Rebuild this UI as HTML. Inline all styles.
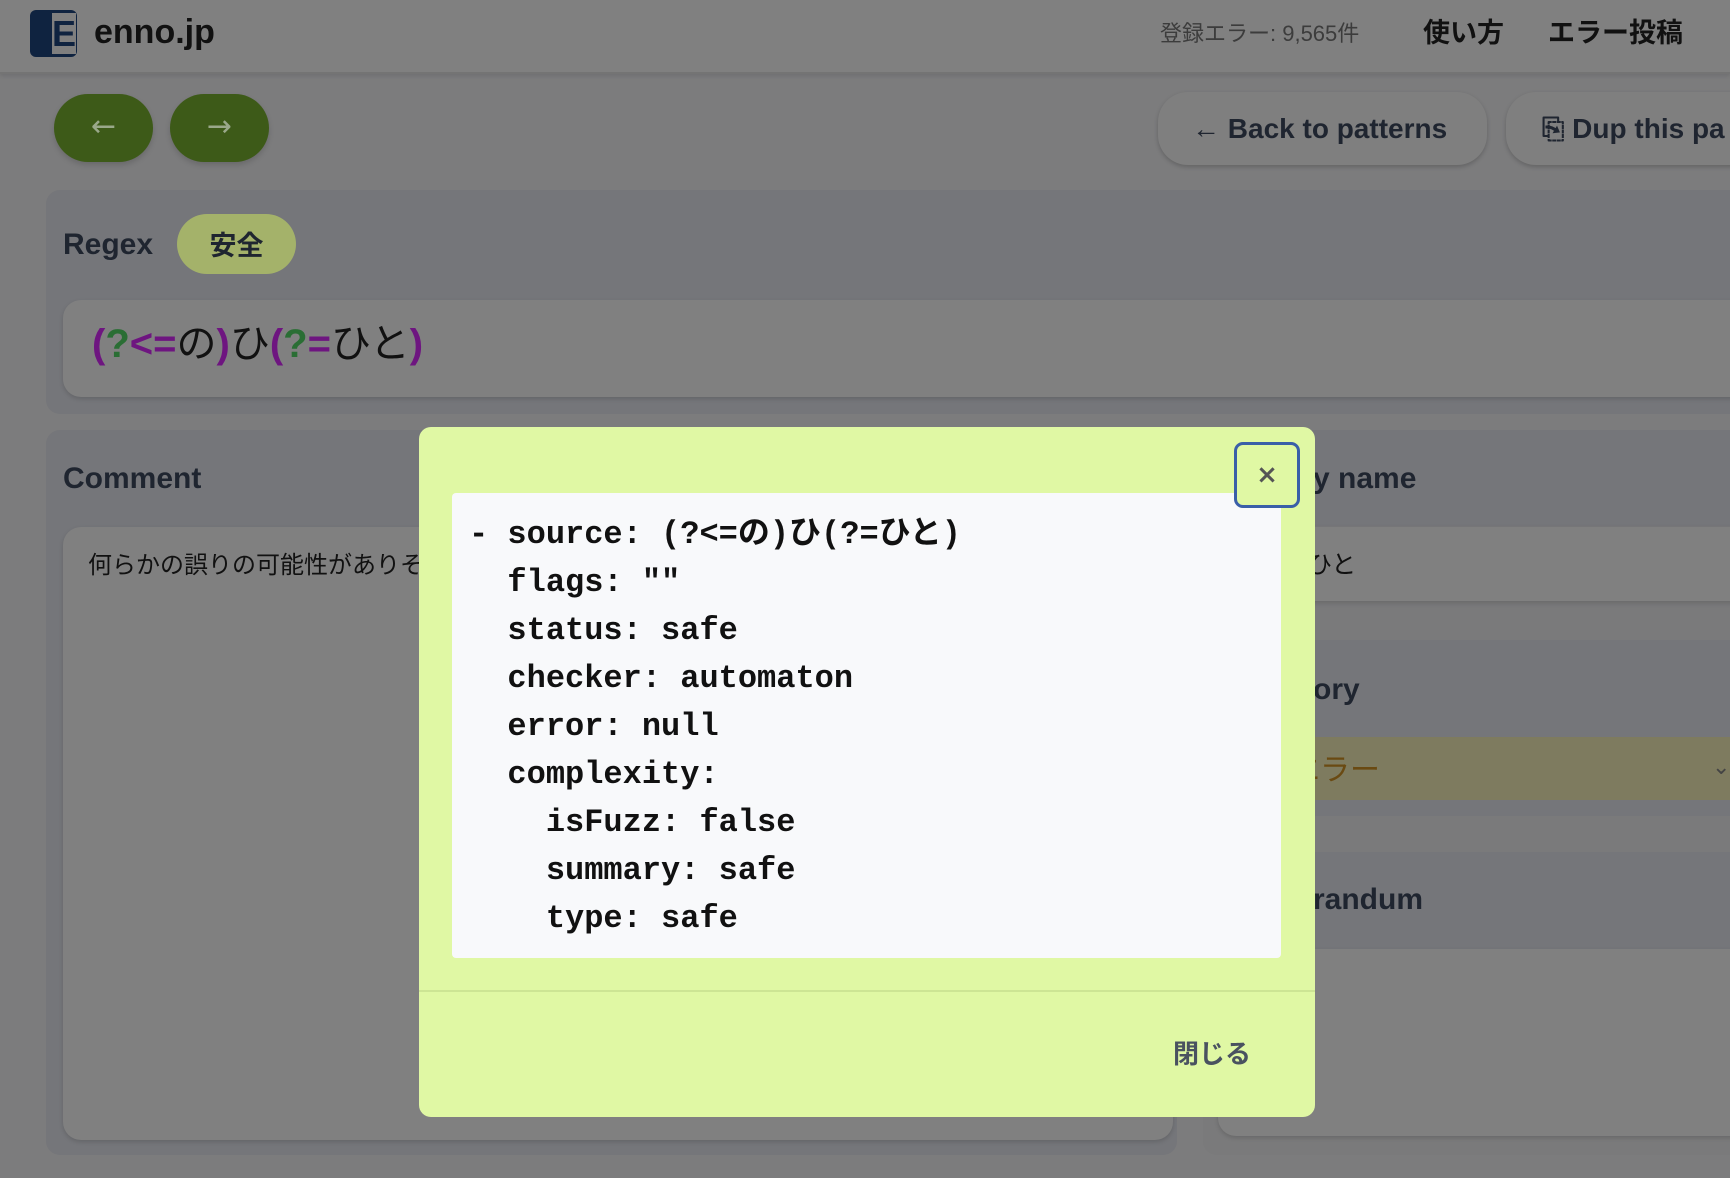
<!DOCTYPE html>
<html><head><meta charset="utf-8"><style>
*{margin:0;padding:0;box-sizing:border-box}
body{width:1730px;height:1178px;background:#7c7c7d;position:relative;overflow:hidden;font-family:"Liberation Sans","Noto Sans CJK JP",sans-serif}
.a{position:absolute}
.hdr{left:0;top:0;width:1730px;height:74px;background:#808080;border-bottom:2px solid #747474;box-shadow:0 2px 4px rgba(0,0,0,.1)}
.mono{font-family:"Liberation Mono","DejaVu Sans Mono","Noto Sans CJK JP",monospace;font-weight:bold}
.p{color:#6e1580;font-weight:bold}.g{color:#2a6e34;font-weight:bold}
</style></head><body>
<div class="a hdr"></div>
<div class="a" style="left:30px;top:10px;width:47px;height:47px;background:#0f2340;border-radius:6px"></div>
<div class="a" style="left:52px;top:13px;width:24px;height:41px;background:#7f7f7f;color:#0f2340;font:bold 36px/41px 'Liberation Sans';text-align:center">E</div>
<div class="a" style="left:94px;top:12px;font:bold 34px/40px 'Liberation Sans';color:#111">enno.jp</div>
<div class="a" style="left:1160px;top:20px;font:22px/28px 'Liberation Sans','Noto Sans CJK JP',sans-serif;color:#3c3c3c">登録エラー: 9,565件</div>
<div class="a" style="left:1423px;top:16px;font:bold 27px/34px 'Liberation Sans','Noto Sans CJK JP',sans-serif;color:#111">使い方</div>
<div class="a" style="left:1548px;top:16px;font:bold 27px/34px 'Liberation Sans','Noto Sans CJK JP',sans-serif;color:#111">エラー投稿</div>

<div class="a" style="left:54px;top:94px;width:99px;height:68px;background:#3d5a18;border-radius:34px;color:#9aa88a;font:30px/66px 'DejaVu Sans';text-align:center;box-shadow:0 3px 6px rgba(0,0,0,.15)">←</div>
<div class="a" style="left:170px;top:94px;width:99px;height:68px;background:#3d5a18;border-radius:34px;color:#9aa88a;font:30px/66px 'DejaVu Sans';text-align:center;box-shadow:0 3px 6px rgba(0,0,0,.15)">→</div>
<div class="a" style="left:1158px;top:92px;width:329px;height:73px;background:#7f7f7f;border-radius:30px;box-shadow:0 2px 5px rgba(0,0,0,.2);font:bold 28px/73px 'Liberation Sans';color:#1f2530;padding-left:34px">← Back to patterns</div>
<div class="a" style="left:1506px;top:92px;width:300px;height:73px;background:#7f7f7f;border-radius:30px;box-shadow:0 2px 5px rgba(0,0,0,.2);font:bold 28px/73px 'Liberation Sans';color:#1f2530;padding-left:36px">⎘ Dup this pa</div>

<div class="a" style="left:46px;top:190px;width:1700px;height:224px;background:#75767a;border-radius:14px"></div>
<div class="a" style="left:63px;top:228px;font:bold 30px/34px 'Liberation Sans';color:#1f2530">Regex</div>
<div class="a" style="left:177px;top:214px;width:119px;height:60px;background:#a4b26a;border-radius:30px;font:bold 27px/60px 'Noto Sans CJK JP',sans-serif;color:#1f2530;text-align:center">安全</div>
<div class="a" style="left:63px;top:300px;width:1700px;height:97px;background:#808080;border-radius:18px;box-shadow:0 2px 5px rgba(0,0,0,.15)"></div>
<div class="a" style="left:92px;top:320px;font:40px/48px 'Liberation Sans','Noto Sans CJK JP',sans-serif;color:#111"><span class="p">(</span><span class="g">?</span><span class="p">&lt;=</span>の<span class="p">)</span>ひ<span class="p">(</span><span class="g">?</span><span class="p">=</span>ひと<span class="p">)</span></div>

<div class="a" style="left:46px;top:430px;width:1131px;height:725px;background:#75767a;border-radius:14px"></div>
<div class="a" style="left:63px;top:462px;font:bold 30px/34px 'Liberation Sans';color:#1f2530">Comment</div>
<div class="a" style="left:63px;top:527px;width:1110px;height:613px;background:#808080;border-radius:18px;box-shadow:0 2px 5px rgba(0,0,0,.15)"></div>
<div class="a" style="left:88px;top:548px;font:24px/30px 'Noto Sans CJK JP',sans-serif;color:#111">何らかの誤りの可能性がありそうです</div>

<div class="a" style="left:1203px;top:430px;width:600px;height:725px;background:#7a7a7b;border-radius:14px"></div>
<div class="a" style="left:1203px;top:430px;width:600px;height:96px;background:#75767a"></div>
<div class="a" style="left:1313px;top:462px;font:bold 30px/34px 'Liberation Sans';color:#1f2530">y name</div>
<div class="a" style="left:1218px;top:527px;width:600px;height:74px;background:#808080;box-shadow:0 2px 5px rgba(0,0,0,.15)"></div>
<div class="a" style="left:1282px;top:548px;font:25px/30px 'Noto Sans CJK JP',sans-serif;color:#111">ひひと</div>
<div class="a" style="left:1203px;top:640px;width:600px;height:176px;background:#75767a"></div>
<div class="a" style="left:1313px;top:673px;font:bold 30px/34px 'Liberation Sans';color:#1f2530">ory</div>
<div class="a" style="left:1203px;top:737px;width:600px;height:63px;background:#7e7b5f"></div>
<div class="a" style="left:1290px;top:749px;font:30px/36px 'Noto Sans CJK JP',sans-serif;color:#6a4a12">エラー</div>
<div class="a" style="left:1712px;top:750px;font:22px/36px 'DejaVu Sans';color:#444">⌄</div>
<div class="a" style="left:1203px;top:852px;width:600px;height:97px;background:#75767a"></div>
<div class="a" style="left:1313px;top:883px;font:bold 30px/34px 'Liberation Sans';color:#1f2530">randum</div>
<div class="a" style="left:1218px;top:949px;width:600px;height:187px;background:#808080;border-radius:18px;box-shadow:0 2px 5px rgba(0,0,0,.15)"></div>

<div class="a" style="left:419px;top:427px;width:896px;height:690px;background:#e0f8a4;border-radius:12px"></div>
<div class="a" style="left:452px;top:493px;width:829px;height:465px;background:#f8f9fb;border-radius:4px"></div>
<div class="a mono" style="left:469px;top:511px;font-size:32px;line-height:48px;color:#111;white-space:pre">- source: (?&lt;=の)ひ(?=ひと)
  flags: ""
  status: safe
  checker: automaton
  error: null
  complexity:
    isFuzz: false
    summary: safe
    type: safe</div>
<div class="a" style="left:1234px;top:442px;width:66px;height:66px;border:3px solid #3a5fa8;border-radius:9px;background:#e0f8a4;text-align:center;font:bold 26px/60px 'DejaVu Sans';color:#555">×</div>
<div class="a" style="left:419px;top:990px;width:896px;height:2px;background:#cde594"></div>
<div class="a" style="left:1173px;top:1036px;font:bold 26px/34px 'Noto Sans CJK JP',sans-serif;color:#4a5260">閉じる</div>
</body></html>
